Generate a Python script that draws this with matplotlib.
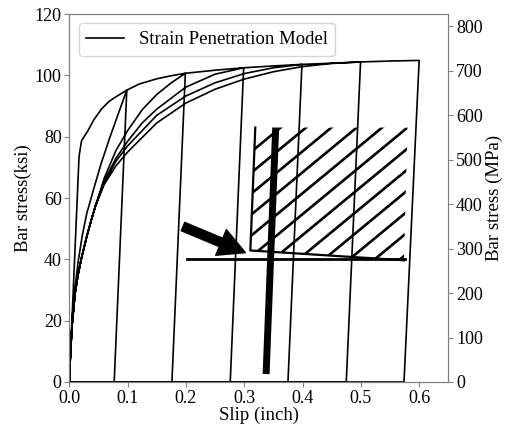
import matplotlib
matplotlib.use("Agg")
import matplotlib.pyplot as plt
import numpy as np
from matplotlib.patches import Polygon

plt.rcParams["font.family"] = ["Liberation Serif", "DejaVu Serif"]
plt.rcParams["font.size"] = 13.5

KSI_TO_MPA = 6.895

# monotonic envelope (slip in inch, stress in ksi)
env_slip = [0.0, 0.0167, 0.021, 0.032, 0.042, 0.055, 0.068, 0.078, 0.0986,
            0.12, 0.15, 0.175, 0.199, 0.25, 0.299, 0.35, 0.399, 0.45,
            0.4995, 0.55, 0.6]
env_ksi = [0, 73.5, 78.7, 82.0, 85.5, 89.0, 91.5, 92.8, 95.2,
           97.2, 98.9, 99.9, 100.7, 101.7, 102.5, 103.1, 103.6, 104.0,
           104.4, 104.7, 104.9]

# unloading: from peak slip down to residual slip at zero stress
peak_slip = [0.0986, 0.199, 0.299, 0.399, 0.4995, 0.6]
residual_slip = [0.077, 0.176, 0.276, 0.375, 0.475, 0.574]

# reloading curves, each one ends at the previous peak
reload_1_slip = [0.0, 0.002, 0.005, 0.01, 0.015, 0.022, 0.03, 0.041, 0.055, 0.07, 0.085, 0.0986]
reload_1_ksi = [0, 10, 21, 31, 39, 47.5, 55, 62.4, 71.5, 80, 88, 95.2]

reload_low_slip = [0.0, 0.002, 0.005, 0.01, 0.015, 0.021, 0.03, 0.038, 0.045]
reload_low_ksi = [0, 9, 19, 29, 35, 40.5, 47.5, 53, 57.5]

reload_2_slip = [0.06, 0.08, 0.1, 0.125, 0.15, 0.175, 0.199]
reload_2_ksi = [66.5, 75.5, 82, 88.8, 93.8, 97.6, 100.7]
reload_3_slip = [0.06, 0.08, 0.1, 0.125, 0.15, 0.2, 0.25, 0.299]
reload_3_ksi = [65.5, 73, 78.5, 84.5, 89, 96.2, 100.4, 102.5]
reload_4_slip = [0.06, 0.08, 0.1, 0.15, 0.2, 0.25, 0.3, 0.35, 0.399]
reload_4_ksi = [65, 72, 77, 87, 93.3, 97.6, 100.6, 102.5, 103.6]
reload_5_slip = [0.06, 0.08, 0.1, 0.15, 0.2, 0.25, 0.3, 0.35, 0.4, 0.45, 0.4995]
reload_5_ksi = [64.5, 70.5, 75, 84.5, 91, 95.5, 98.8, 101.2, 102.9, 103.9, 104.4]

reloads = [
    (reload_1_slip, reload_1_ksi),
    (reload_low_slip + reload_2_slip, reload_low_ksi + reload_2_ksi),
    (reload_low_slip + reload_3_slip, reload_low_ksi + reload_3_ksi),
    (reload_low_slip + reload_4_slip, reload_low_ksi + reload_4_ksi),
    (reload_low_slip + reload_5_slip, reload_low_ksi + reload_5_ksi),
]

# schematic of the bar pulled out of the footing (data units)
bar_slip = [0.354, 0.3375]
bar_ksi = [83, 2.6]
bond_slip = [0.2027, 0.575]
bond_ksi = [40, 40]
zone_slip = [0.319, 0.3105, 0.574, 0.580]
zone_ksi = [83.0, 42.9, 39.7, 83.0]
hatch_slope = 157.0   # ksi per inch
hatch_step = 6.83     # ksi
arrow_tail = (0.195, 50.7)
arrow_tip = (0.302, 42.2)


def envelope_between(s0, s1):
    xs, ys = [], []
    for x, y in zip(env_slip, env_ksi):
        if s0 <= x <= s1:
            xs.append(x)
            ys.append(y)
    return xs, ys


# build the full loading path
path_x, path_y = envelope_between(0.0, peak_slip[0])
for i, peak in enumerate(peak_slip):
    path_x += [residual_slip[i], 0.0]
    path_y += [0.0, 0.0]
    if i < len(reloads):
        rx, ry = reloads[i]
        path_x += rx
        path_y += ry
        ex, ey = envelope_between(peak, peak_slip[i + 1])
        path_x += ex[1:]
        path_y += ey[1:]

fig = plt.figure(figsize=(5.08, 4.28), dpi=100)
ax = fig.add_axes([0.1364, 0.1075, 0.7461, 0.8595])

ax.plot(path_x, path_y, color="black", lw=1.2, label="Strain Penetration Model")

# hatched zone
zone = Polygon(list(zip(zone_slip, zone_ksi)), closed=True, fill=False, edgecolor="none")
ax.add_patch(zone)
for k in range(-5, 7):
    y0 = zone_ksi[3] - k * hatch_step
    xs = np.array([0.25, 0.62])
    ys = y0 + hatch_slope * (xs - zone_slip[3])
    ln, = ax.plot(xs, ys, color="black", lw=1.9, solid_capstyle="butt")
    ln.set_clip_path(zone)
ax.plot(zone_slip[:3], zone_ksi[:3], color="black", lw=1.6)
ax.plot(bond_slip, bond_ksi, color="black", lw=2.0)
ax.plot(bar_slip, bar_ksi, color="black", lw=5.0, solid_capstyle="butt")
ax.annotate("", xy=arrow_tip, xytext=arrow_tail,
            arrowprops=dict(arrowstyle="simple,head_width=20,head_length=19,tail_width=6.5",
                            color="black", mutation_scale=1, shrinkA=0, shrinkB=0))

ax.set_xlim(0, 0.65)
ax.set_ylim(0, 120)
ax.set_xticks([0.0, 0.1, 0.2, 0.3, 0.4, 0.5, 0.6])
ax.set_xlabel("Slip (inch)", labelpad=0)
ax.set_ylabel("Bar stress(ksi)", labelpad=2)
ax.legend(loc="upper left")

ax2 = ax.twinx()
ax2.set_ylim(0, 120 * KSI_TO_MPA)
ax2.set_yticks(range(0, 900, 100))
ax2.set_ylabel("Bar stress (MPa)", labelpad=2)

for a in (ax, ax2):
    for sp in a.spines.values():
        sp.set_color("#808080")
    a.tick_params(color="#808080", labelcolor="black", labelsize=13, pad=2)

fig.savefig("out.png", dpi=100)
